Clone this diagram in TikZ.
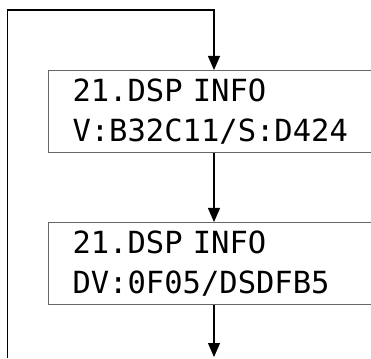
\documentclass[tikz,border=0pt]{standalone}
\usepackage{fontspec}
\setmonofont{DejaVu Sans Mono}
\usetikzlibrary{arrows.meta,positioning}

\begin{document}
\begin{tikzpicture}[
  lcd/.style={draw=black!60, line width=1pt, minimum height=82pt, text width=316pt, inner xsep=24pt, align=left, font=\ttfamily\fontsize{30.5}{40}\selectfont},
  arrow/.style={-{Triangle[length=14pt,width=12pt]}, line width=1.1pt},
  x=1pt, y=1pt
]
  \clip (0,0) rectangle (371,358);

  % menu screens
  \node[lcd, anchor=north west] (info1) at (48,288) {21.DSP INFO\\V:B32C11/S:D424};
  \node[lcd, below=69pt of info1] (info2) {21.DSP INFO\\DV:0F05/DSDFB5};

  % loop back
  \coordinate (loop) at (7.5,0);
  \coordinate (top) at (214,348);
  \coordinate (out) at (214,1);

  \draw[arrow] (loop) |- (top) -- (top |- info1.north);
  \draw[arrow] (top |- info1.south) -- (top |- info2.north);
  \draw[arrow] (top |- info2.south) -- (out);
\end{tikzpicture}
\end{document}
